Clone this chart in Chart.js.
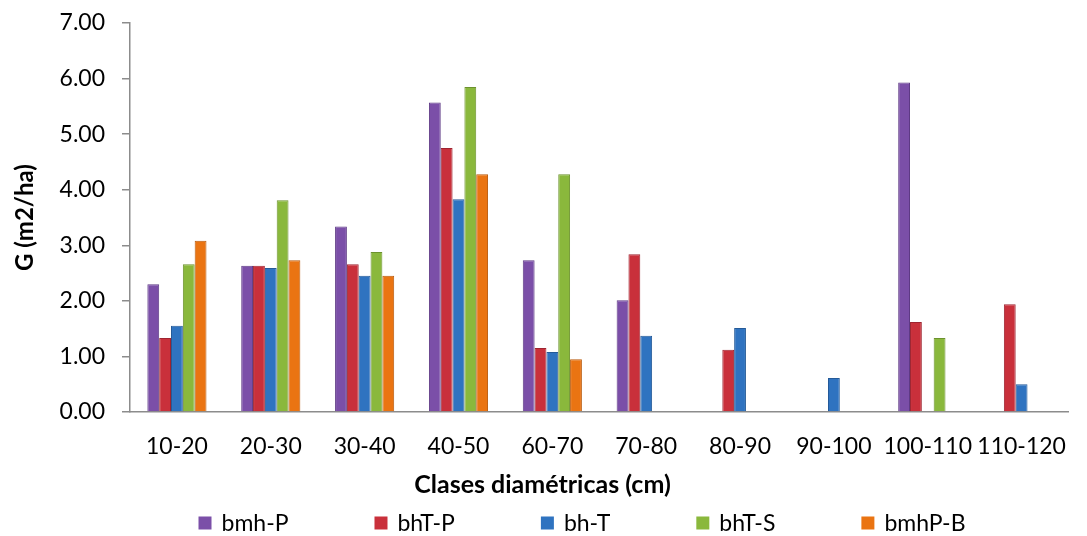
<!DOCTYPE html>
<html lang="es">
<head>
  <meta charset="UTF-8">
  <title>G por clases diamétricas</title>
  <script src="https://cdn.jsdelivr.net/npm/chart.js"></script>
  <style>
    html, body { margin: 0; padding: 0; background: #fff; }
    #wrap { width: 1087px; height: 536px; }
  </style>
</head>
<body>
  <div id="wrap">
    <canvas id="chart" width="1087" height="536"></canvas>
  </div>

  <script>
    // data
    const clases = ['10-20', '20-30', '30-40', '40-50', '60-70', '70-80', '80-90', '90-100', '100-110', '110-120'];
    const seriesNames = ['bmh-P', 'bhT-P', 'bh-T', 'bhT-S', 'bmhP-B'];
    const bmhP  = [2.30, 2.63, 3.34, 5.57, 2.73, 2.01, 0,    0,    5.93, 0];
    const bhTP  = [1.33, 2.63, 2.66, 4.75, 1.15, 2.84, 1.12, 0,    1.62, 1.94];
    const bhT   = [1.55, 2.59, 2.45, 3.83, 1.08, 1.37, 1.51, 0.61, 0,    0.50];
    const bhTS  = [2.66, 3.81, 2.88, 5.85, 4.28, 0,    0,    0,    1.33, 0];
    const bmhPB = [3.08, 2.73, 2.45, 4.28, 0.95, 0,    0,    0,    0,    0];
    const yTicks = [0, 1, 2, 3, 4, 5, 6, 7];

    const colors = ['#7b4fa8', '#c9303b', '#2f73c0', '#8ab83c', '#ea7412'];
    const edges  = ['#5e3a85', '#9e2430', '#245a98', '#6c922d', '#b95a0c'];

    const FONT = 'Lato, "Open Sans", sans-serif';

    // legend with a fixed gap after each label, like the original
    const spacedLegend = {
      id: 'spacedLegend',
      afterDraw(chart, args, opts) {
        const ctx = chart.ctx;
        ctx.save();
        ctx.font = opts.fontSize + 'px ' + FONT;
        const items = chart.data.datasets.map(ds => ({
          text: ds.label,
          color: ds.backgroundColor,
          w: ctx.measureText(ds.label).width
        }));
        const total = items.reduce((s, it) => s + opts.box + opts.textGap + it.w, 0) + opts.itemGap * (items.length - 1);
        let x = opts.centerX - total / 2;
        const y = opts.y;
        ctx.textBaseline = 'middle';
        items.forEach(it => {
          ctx.fillStyle = it.color;
          ctx.fillRect(x, y - opts.box / 2, opts.box, opts.box);
          ctx.fillStyle = '#000';
          ctx.fillText(it.text, x + opts.box + opts.textGap, y + 1);
          x += opts.box + opts.textGap + it.w + opts.itemGap;
        });
        ctx.restore();
      }
    };

    const allSeries = [bmhP, bhTP, bhT, bhTS, bmhPB];

    new Chart(document.getElementById('chart'), {
      type: 'bar',
      data: {
        labels: clases,
        datasets: allSeries.map((vals, i) => ({
          label: seriesNames[i],
          data: vals,
          backgroundColor: colors[i],
          borderColor: edges[i],
          borderWidth: { left: 1, right: 1, top: 1, bottom: 0 },
          categoryPercentage: 0.63,
          barPercentage: 1.0
        }))
      },
      plugins: [spacedLegend],
      options: {
        responsive: false,
        animation: false,
        layout: { padding: { top: 23, right: 2, left: 0, bottom: 36 } },
        plugins: {
          legend: { display: false },
          tooltip: { enabled: false },
          title: {
            display: true,
            position: 'bottom',
            weight: 500,
            text: 'Clases diamétricas (cm)',
            color: '#000',
            font: { family: FONT, size: 25, weight: 'bold' },
            padding: { top: 10, bottom: 0 }
          },
          spacedLegend: { fontSize: 23, box: 13, textGap: 10, itemGap: 86, centerX: 582, y: 523 }
        },
        scales: {
          x: {
            afterFit: scale => { scale.height = 48; },
            grid: { display: true, drawOnChartArea: false, drawTicks: false },
            border: { color: '#8c8c8c', width: 1.5 },
            ticks: { color: '#000', font: { family: FONT, size: 23 }, padding: 21, maxRotation: 0, autoSkip: false }
          },
          y: {
            min: 0,
            max: 7,
            afterBuildTicks: scale => { scale.ticks = yTicks.map(v => ({ value: v })); },
            afterFit: scale => { scale.width = 130; scale.paddingTop = 14; },
            grid: { drawOnChartArea: false, drawTicks: true, tickLength: 8, color: '#8c8c8c', lineWidth: 1.5 },
            border: { color: '#8c8c8c', width: 1.5 },
            ticks: {
              color: '#000',
              font: { family: FONT, size: 23 },
              padding: 17,
              callback: v => Number(v).toFixed(2)
            },
            title: {
              display: true,
              text: 'G (m2/ha)',
              color: '#000',
              font: { family: FONT, size: 24, weight: 'bold' },
              padding: { top: 11, bottom: 0 }
            }
          }
        }
      }
    });
  </script>
</body>
</html>
